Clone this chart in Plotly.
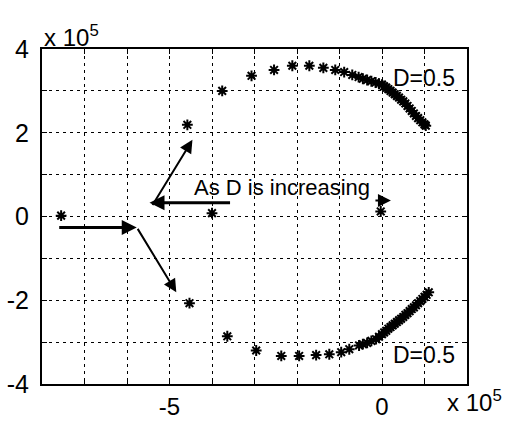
import plotly.graph_objects as go

# values in units of 1e5
upper_x = [-4.58, -3.76, -3.07, -2.54, -2.11, -1.71, -1.38, -1.10, -0.89, -0.70,
           -0.55, -0.45, -0.35, -0.25, -0.15, -0.07, 0.0,
           0.05, 0.10, 0.15, 0.20, 0.25, 0.30, 0.35, 0.40, 0.45, 0.50, 0.55,
           0.60, 0.65, 0.70, 0.75, 0.80, 0.85, 0.90, 0.95, 1.00, 1.03]
upper_y = [2.19, 3.00, 3.36, 3.50, 3.60, 3.60, 3.55, 3.50, 3.45, 3.38,
           3.33, 3.29, 3.26, 3.23, 3.20, 3.17, 3.15,
           3.11, 3.08, 3.04, 3.00, 2.96, 2.92, 2.88, 2.84, 2.79, 2.75, 2.70,
           2.64, 2.58, 2.52, 2.46, 2.40, 2.35, 2.30, 2.25, 2.20, 2.17]

lower_x = [-4.53, -3.64, -2.96, -2.37, -1.95, -1.55, -1.24, -0.96, -0.77,
           -0.54, -0.45, -0.35, -0.25, -0.14, -0.07, 0.0,
           0.05, 0.10, 0.15, 0.20, 0.25, 0.30, 0.35, 0.40, 0.45, 0.50, 0.55,
           0.60, 0.65, 0.70, 0.75, 0.80, 0.85, 0.90, 0.95, 1.00, 1.05, 1.10]
lower_y = [-2.07, -2.86, -3.20, -3.33, -3.33, -3.31, -3.29, -3.24, -3.17,
           -3.08, -3.05, -3.02, -2.97, -2.93, -2.87, -2.81,
           -2.77, -2.73, -2.68, -2.64, -2.60, -2.56, -2.52, -2.48, -2.44, -2.40, -2.35,
           -2.31, -2.26, -2.21, -2.17, -2.12, -2.07, -2.02, -1.97, -1.92, -1.87, -1.81]

real_x = [-7.55, -4.00, -0.03]
real_y = [0.02, 0.08, 0.12]

x_tickvals = [-5, 0]
x_ticktext = ["-5", "0"]
y_tickvals = [-4, -2, 0, 2, 4]
y_ticktext = ["-4", "-2", "0", "2", "4"]

# arrows: (tail_x, tail_y, head_x, head_y, width)
arrows = [
    (-7.63, -0.26, -5.77, -0.26, 3),
    (-5.77, -0.26, -4.84, -1.81, 2),
    (-5.42, 0.24, -4.46, 1.83, 2),
    (-3.54, 0.33, -5.47, 0.33, 3),
    (-0.19, 0.38, 0.21, 0.38, 2),
]

FONT = "Liberation Sans, Arial, sans-serif"
marker = dict(symbol="asterisk-open", size=9, color="black",
              line=dict(color="black", width=2))

fig = go.Figure()
for xs, ys in [(upper_x, upper_y), (lower_x, lower_y), (real_x, real_y)]:
    fig.add_trace(go.Scatter(x=xs, y=ys, mode="markers", marker=marker,
                             showlegend=False, hoverinfo="skip"))

annots = []
for tx, ty, hx, hy, w in arrows:
    annots.append(dict(x=hx, y=hy, ax=tx, ay=ty, xref="x", yref="y",
                       axref="x", ayref="y", text="", showarrow=True,
                       arrowhead=2, arrowsize=1.3 if w == 2 else 1.0,
                       arrowwidth=w, arrowcolor="black", standoff=0))
annots += [
    dict(x=-4.46, y=0.69, xref="x", yref="y", text="As D is increasing",
         showarrow=False, xanchor="left", yanchor="middle",
         font=dict(family=FONT, size=22, color="black")),
    dict(x=0.21, y=3.31, xref="x", yref="y", text="D=0.5",
         showarrow=False, xanchor="left", yanchor="middle",
         font=dict(family=FONT, size=23, color="black")),
    dict(x=0.21, y=-3.31, xref="x", yref="y", text="D=0.5",
         showarrow=False, xanchor="left", yanchor="middle",
         font=dict(family=FONT, size=23, color="black")),
    dict(x=0.0, y=1.0, xref="paper", yref="paper", text="x 10<sup>5</sup>",
         showarrow=False, xanchor="left", yanchor="bottom", yshift=-4,
         font=dict(family=FONT, size=24, color="black")),
    dict(x=0.948, y=0.0, xref="paper", yref="paper", text="x 10<sup>5</sup>",
         showarrow=False, xanchor="left", yanchor="top", yshift=0,
         font=dict(family=FONT, size=24, color="black")),
]

grid = dict(showgrid=True, gridcolor="black", griddash="3px,4px", gridwidth=1)
minor = dict(tickmode="linear", tick0=0, dtick=1, ticks="inside", ticklen=5,
             tickcolor="black", showgrid=True, gridcolor="black",
             griddash="3px,4px", gridwidth=1)

fig.update_layout(
    width=516, height=421,
    margin=dict(l=42, r=49, t=49, b=37, pad=0, autoexpand=False),
    paper_bgcolor="white", plot_bgcolor="white",
    annotations=annots,
    font=dict(family=FONT, size=25, color="black"),
    xaxis=dict(range=[-8, 2], tickmode="array", tickvals=x_tickvals,
               ticktext=x_ticktext, ticks="inside", ticklen=5, tickcolor="black",
               showline=True, linecolor="black", linewidth=2, mirror="allticks",
               zeroline=False, minor=minor, ticklabelstandoff=0,
               tickfont=dict(family=FONT, size=24, color="black"),
               automargin=False, **grid),
    yaxis=dict(range=[-4, 4], tickmode="array", tickvals=y_tickvals,
               ticktext=y_ticktext, ticks="inside", ticklen=5, tickcolor="black",
               showline=True, linecolor="black", linewidth=2, mirror="allticks",
               zeroline=False, minor=minor, ticklabelstandoff=6,
               automargin=False, **grid),
)

fig.write_html("out.html")
